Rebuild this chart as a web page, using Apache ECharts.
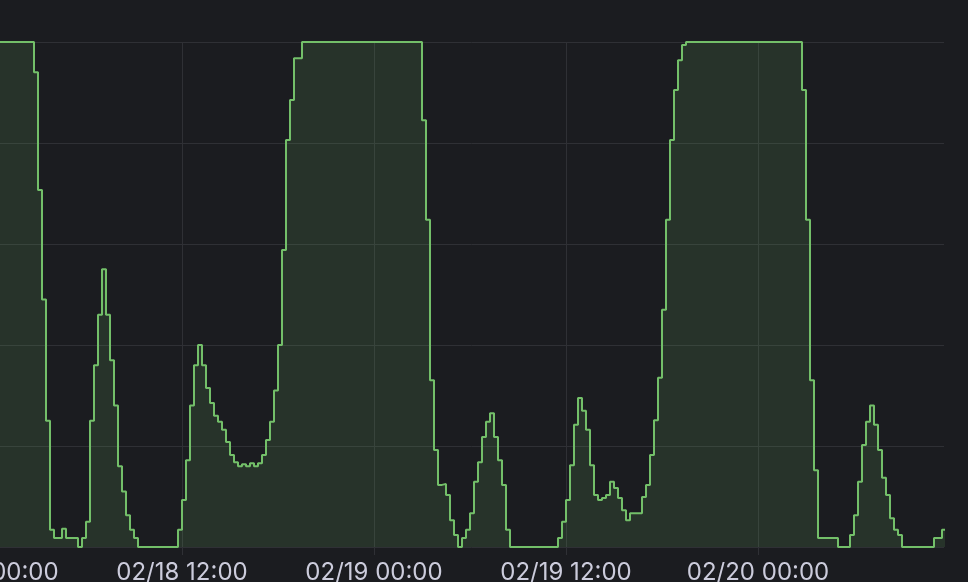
<!DOCTYPE html>
<html><head><meta charset="utf-8">
<script src="https://cdn.jsdelivr.net/npm/echarts@6/dist/echarts.min.js"></script>
<style>html,body{margin:0;padding:0;background:#1b1c20;overflow:hidden}#c{width:968px;height:582px}</style>
</head><body><div id="c"></div>
<script>
// Tick labels on the time axis (hours since 02/18 00:00)
const tickHours = [0, 12, 24, 36, 48];
const tickLabels = ["02/18 00:00", "02/18 12:00", "02/19 00:00", "02/19 12:00", "02/20 00:00"];
// Sampling step of the series, in hours (15 minutes)
const stepHours = 0.25;
// Series values (percent), one every 15 minutes starting 02/18 00:00
const values = [
  100,100,100,100,100,100,100,100,100,100,100,
  94,70.7,49,25,3.4,1.8,1.8,3.6,1.8,1.8,1.8,0,1.8,
  5,25,36,46,55,46,37,28,16,11,6.3,3.4,1.8,
  0,0,0,0,0,0,0,0,0,0,
  3.4,9.3,17.2,28,36,40,36,31.5,28.5,26,24.8,23.2,20.8,18.2,
  16.8,16,16.4,16,16.6,16,16.6,18.2,21.2,24.8,31,40,58.8,80.6,88.5,96.8,96.8,
  100,100,100,100,100,100,100,100,100,100,100,100,100,100,100,
  100,100,100,100,100,100,100,100,100,100,100,100,100,100,100,
  84.5,64.8,33,19.2,12.3,12.5,10.3,5.3,2.4,0,1.8,3.4,6.7,
  12.9,16.8,21.8,24.8,26.5,21.8,17.2,12.3,3.4,
  0,0,0,0,0,0,0,0,0,0,0,0,
  1.8,5,9.3,16.2,24.2,29.5,27,23.2,16.2,10.3,
  9.3,9.7,10.3,12.9,11.7,9.7,7.3,5.3,6.7,6.7,6.7,
  9.9,12.3,18.2,25.1,33.5,47,64.8,80.6,90.5,96.4,99.4,
  100,100,100,100,100,100,100,100,100,100,100,100,100,100,100,
  100,100,100,100,100,100,100,100,100,100,100,100,100,100,
  90.5,64.8,33,15.2,1.8,1.8,1.8,1.8,1.8,0,0,0,
  2.4,6.3,12.9,20.2,24.8,28,24.2,19.2,13.7,10.3,5.7,3.4,2.4,
  0,0,0,0,0,0,0,0,
  1.8,1.8,3.4,3.4
];
const seriesData = values.map((v, i) => [i * stepHours, v]);

const gridColor = '#2f3035';
const chart = echarts.init(document.getElementById('c'), null, {renderer: 'canvas'});
chart.setOption({
  backgroundColor: '#1b1c20',
  animation: false,
  grid: {left: -10, right: 24, top: 42, bottom: 35, containLabel: false, outerBoundsMode: 'none'},
  xAxis: {
    type: 'value', min: 0, max: 59.625, interval: 12,
    axisLine: {show: false},
    axisTick: {show: true, length: 8, customValues: tickHours, lineStyle: {color: gridColor}},
    splitLine: {show: true, lineStyle: {color: [gridColor, gridColor, gridColor, gridColor, gridColor, 'rgba(0,0,0,0)'], width: 1}},
    axisLabel: {
      customValues: tickHours,
      color: '#ccccdc', fontFamily: 'Inter', fontSize: 24, margin: 14,
      formatter: function (v) { const i = tickHours.indexOf(v); return i >= 0 ? tickLabels[i] : ''; }
    }
  },
  yAxis: {
    type: 'value', min: 0, max: 100, interval: 20,
    axisLine: {show: false}, axisTick: {show: false}, axisLabel: {show: false},
    splitLine: {show: true, lineStyle: {color: gridColor, width: 1}}
  },
  series: [{
    type: 'line', step: 'end', showSymbol: false, data: seriesData,
    lineStyle: {color: '#73bf69', width: 2},
    itemStyle: {color: '#73bf69'},
    areaStyle: {color: 'rgba(115,191,105,0.2)'}
  }]
});
</script>
</body></html>
